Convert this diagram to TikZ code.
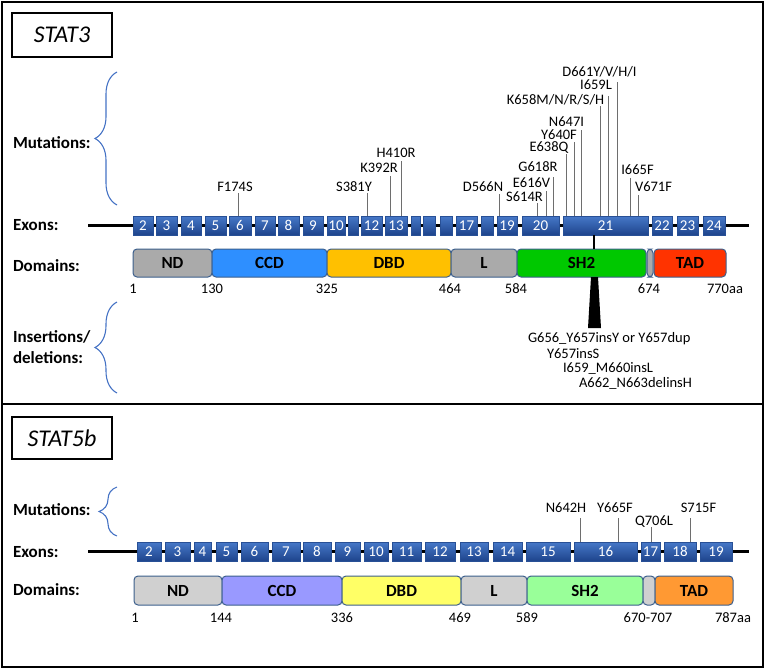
\documentclass[tikz,border=0pt]{standalone}
\usepackage{fontspec}
\setmainfont{Carlito}
\usetikzlibrary{decorations.pathreplacing}
\definecolor{exontop}{RGB}{70,120,200}
\definecolor{exonbot}{RGB}{30,68,140}
\definecolor{exonedge}{RGB}{40,80,150}
\definecolor{domedge}{RGB}{60,95,140}
\definecolor{bracecol}{RGB}{68,114,196}
\definecolor{mutgrey}{RGB}{110,110,110}
\definecolor{gA}{RGB}{170,170,170}
\definecolor{cA}{RGB}{46,143,255}
\definecolor{yA}{RGB}{255,192,0}
\definecolor{sA}{RGB}{0,200,0}
\definecolor{tA}{RGB}{255,51,0}
\definecolor{gB}{RGB}{208,208,208}
\definecolor{cB}{RGB}{153,153,255}
\definecolor{yB}{RGB}{255,255,102}
\definecolor{sB}{RGB}{153,255,153}
\definecolor{tB}{RGB}{255,153,51}
\begin{document}
\begin{tikzpicture}[x=1pt,y=-1pt,
  frame/.style={draw=black,line width=1.6pt},
  titlebox/.style={draw=black,line width=1.2pt,inner sep=0pt,outer sep=0pt,font=\fontsize{24}{28}\selectfont\itshape},
  rowlab/.style={inner sep=0pt,outer sep=0pt,anchor=base west,font=\fontsize{17}{20}\selectfont\bfseries},
  exon/.style={draw=exonedge,line width=0.7pt,top color=exontop,bottom color=exonbot,text=white,inner sep=0pt,outer sep=0pt,minimum height=19pt,font=\fontsize{15}{17}\selectfont},
  dombox/.style={draw=domedge,line width=1pt,rounded corners=4pt,inner sep=0pt,outer sep=0pt,font=\fontsize{17}{20}\selectfont\bfseries},
  mutlab/.style={inner sep=0pt,outer sep=0pt,anchor=base,font=\fontsize{14.5}{17}\selectfont},
  mutline/.style={draw=mutgrey,line width=1pt},
  backbone/.style={draw=black,line width=2.6pt},
  mybrace/.style={draw=bracecol,line width=1.1pt,decorate,decoration={brace,amplitude=#1}},
  link/.style={draw=black,line width=1.8pt}
]
\useasboundingbox (0,0) rectangle (768,669);
\draw[frame] (2,2) rectangle (763,404);
\draw[frame] (2,404) rectangle (763,667);

% ---------------- STAT3 ----------------
\node[titlebox,minimum width=100pt,minimum height=44pt,anchor=north west] (t3) at (12,13) {STAT3};
\node[rowlab] (lm3) at (13,148.5) {Mutations:};
\node[rowlab] (le3) at (13,230.5) {Exons:};
\node[rowlab] (ld3) at (13,271.5) {Domains:};
\node[rowlab] (li3) at (13,342.5) {Insertions/};
\node[rowlab] (lx3) at (13,363.5) {deletions:};
\coordinate (br1a) at (117,205);
\coordinate (br1b) at (117,72);
\draw[mybrace=22pt] (br1a) -- (br1b);
\coordinate (br2a) at (117,393);
\coordinate (br2b) at (117,302);
\draw[mybrace=22pt] (br2a) -- (br2b);

\coordinate (bb3a) at (88,225.5);
\coordinate (bb3b) at (749,225.5);
\draw[backbone] (bb3a) -- (bb3b);
\foreach \n/\a/\b/\t in {2/133/153/2,3/156/177/3,4/181/201/4,5/205/226/5,6/229/251/6,7/255/275/7,8/278/299/8,9/303/323/9,10/327/345/10,11/348/358/{},12/361/382/12,13/385/407/13,14/411/420/{},15/423/435/{},16/440/452/{},17/456/477/17,18/481/493/{},19/497/517/19,20/522/559/20,21/563/648/21,22/652/672/22,23/677/698/23,24/703/725/24}{
  \node[exon,minimum width={(\b-\a)*1pt},anchor=west] (a\n) at (\a,225.5) {\t};
}
\foreach \i/\t/\cx/\cy/\lx/\ty/\e in {1/F174S/235/187/238/193/a6,2/S381Y/354/187/367/193/a12,3/K392R/379/168/390/176/a13,4/H410R/396/153/401/161/a13,5/D566N/483/187/499/194/a19,6/S614R/524.5/197/537/203/a20,7/E616V/531.5/183/546/191/a20,8/G618R/538/167/553/177/a20,9/E638Q/549/147/566/154/a21,10/Y640F/559/135/574/142/a21,11/N647I/566.5/122/581/130/a21,12/{K658M/N/R/S/H}/555.5/100/600/106/a21,13/I659L/596/85/608/96/a21,14/{D661Y/V/H/I}/599.5/72/617/82/a21,15/I665F/637.5/170/630/178/a21,16/V671F/653.5/187/638/195/a21}{
  \node[mutlab] (m\i) at (\cx,\cy+4.7) {\t};
  \coordinate (k\i) at (\lx,\ty);
  \draw[mutline] (k\i) -- (k\i |- \e.north);
}
\foreach \n/\a/\b/\c/\t in {nd/133/212/gA/ND,ccd/212/327/cA/CCD,dbd/327/451/yA/DBD,l/451/517/gA/L,sh/517/646/sA/SH2,gap/647/653/gA/{},tad/654/726/tA/TAD}{
  \node[dombox,fill=\c,minimum width={(\b-\a)*1pt},minimum height=28pt,anchor=west] (d\n) at (\a,263) {\t};
}
\foreach \i/\t/\x in {1/1/133,2/130/212,3/325/327,4/464/450,5/584/516,6/674/649,7/770aa/725}{
  \node[mutlab] (n\i) at (\x,293.7) {\t};
}
\coordinate (c21) at (594,0);
\draw[link] (a21.south -| c21) -- (dsh.north -| c21);
\fill[black] (591,277) -- (598,277) -- (601,328) -- (588,328) -- cycle;
\node[mutlab,anchor=base west] (i1) at (528,342.7) {G656\_Y657insY or Y657dup};
\node[mutlab,anchor=base west] (i2) at (547,358.7) {Y657insS};
\node[mutlab,anchor=base west] (i3) at (563,372.7) {I659\_M660insL};
\node[mutlab,anchor=base west] (i4) at (579,387.7) {A662\_N663delinsH};

% ---------------- STAT5b ----------------
\node[titlebox,minimum width=100pt,minimum height=42pt,anchor=north west] (t5) at (12,417) {STAT5b};
\node[rowlab] (lm5) at (13,515.5) {Mutations:};
\node[rowlab] (le5) at (13,557.5) {Exons:};
\node[rowlab] (ld5) at (13,595.5) {Domains:};
\coordinate (br3a) at (117,536);
\coordinate (br3b) at (117,487);
\draw[mybrace=18pt] (br3a) -- (br3b);

\coordinate (bb5a) at (88,551.5);
\coordinate (bb5b) at (749,551.5);
\draw[backbone] (bb5a) -- (bb5b);
\foreach \n/\a/\b in {2/137/161,3/165/190,4/194/211,5/216/237,6/241/268,7/272/300,8/303/331,9/335/360,10/364/388,11/392/421,12/425/455,13/460/488,14/493/522,15/526/570,16/574/637,17/641/660,18/664/696,19/700/732}{
  \node[exon,minimum width={(\b-\a)*1pt},anchor=west] (b\n) at (\a,551.5) {\n};
}
\foreach \i/\t/\cx/\cy/\lx/\ty/\e in {1/N642H/566/508/580/518/b16,2/Y665F/615/508/618/518/b16,3/Q706L/654/521/651/527/b17,4/S715F/698.5/508/690/518/b18}{
  \node[mutlab] (p\i) at (\cx,\cy+4.7) {\t};
  \coordinate (q\i) at (\lx,\ty);
  \draw[mutline] (q\i) -- (q\i |- \e.north);
}
\foreach \n/\a/\b/\c/\t in {nd/134/222/gB/ND,ccd/222/342/cB/CCD,dbd/342/461/yB/DBD,l/461/527/gB/L,sh/527/643/sB/SH2,gap/643/655/gB/{},tad/655/733/tB/TAD}{
  \node[dombox,fill=\c,minimum width={(\b-\a)*1pt},minimum height=29pt,anchor=west] (e\n) at (\a,590.5) {\t};
}
\foreach \i/\t/\x in {1/1/135,2/144/221,3/336/342,4/469/460,5/589/527,6/670-707/648,7/787aa/733}{
  \node[mutlab] (r\i) at (\x,622.7) {\t};
}
\end{tikzpicture}
\end{document}
